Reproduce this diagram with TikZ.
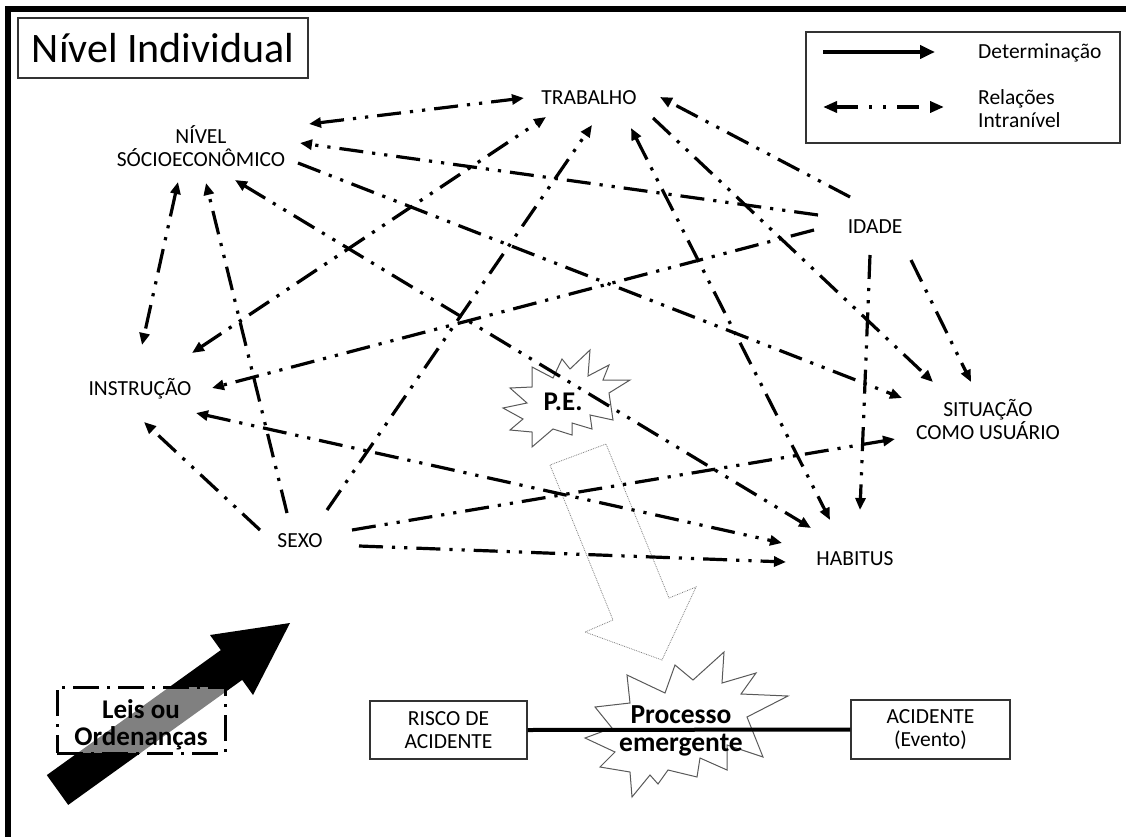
\documentclass[tikz,border=0pt]{standalone}
\usepackage{fontspec}
\setmainfont{Carlito}
\usetikzlibrary{arrows.meta}
\begin{document}
\begin{tikzpicture}[x=1pt,y=-1pt,
  lbl/.style={font=\fontsize{21.5}{23}\selectfont, inner sep=0pt, align=center},
  boldlbl/.style={font=\fontsize{27}{27}\selectfont\bfseries, inner sep=0pt, align=center},
  rel/.style={line width=3.2pt, dash pattern=on 24pt off 9pt on 3.2pt off 9pt on 3.2pt off 9pt},
  one/.style={rel, -{Triangle[length=12pt,width=10pt]}},
  two/.style={rel, {Triangle[length=12pt,width=10pt]}-{Triangle[length=12pt,width=10pt]}},
  thinbox/.style={draw=black!80, line width=1.2pt, inner sep=0pt},
  burst/.style={draw=black!65, line width=1pt},
  hollow/.style={draw=black!50, densely dotted, line width=0.8pt},
]
\useasboundingbox (0,0) rectangle (1126,837);
\fill[white] (0,0) rectangle (1126,837);
% frame (top and left)
\draw[line width=6pt] (5,9.5) -- (1126,9.5);
\draw[line width=5.5pt] (8,6.5) -- (8,837);

% title
\node[thinbox, minimum width=290pt, minimum height=60pt, font=\fontsize{42}{46}\selectfont] (title) at (163,48) {Nível Individual};

% legend
\node[thinbox, minimum width=314pt, minimum height=111pt] (legend) at (963,87.5) {};
\coordinate (detA) at (823,52); \coordinate (detB) at (935,52);
\draw[line width=4pt, -{Triangle[length=15pt,width=13pt]}] (detA) -- (detB);
\node[lbl, anchor=base west] (dettxt) at (978,59) {Determinação};
\coordinate (relA) at (823,107); \coordinate (relB) at (944,107);
\draw[line width=4pt, dash pattern=on 22pt off 11pt on 3pt off 11pt on 3pt off 11pt,
  {Triangle[length=14pt,width=11pt]}-{Triangle[length=14pt,width=11pt]}] (relA) -- (relB);
\node[lbl, align=left, anchor=west] (reltxt) at (978,109) {Relações\\Intranível};

% node labels
\node[lbl, anchor=base] (trab) at (589,105) {TRABALHO};
\node[lbl] (nivel) at (201,146) {NÍVEL\\SÓCIOECONÔMICO};
\node[lbl, anchor=base] (idade) at (875,233) {IDADE};
\node[lbl, anchor=base] (instr) at (140,395) {INSTRUÇÃO};
\node[lbl] (sit) at (988,420) {SITUAÇÃO\\COMO USUÁRIO};
\node[lbl, anchor=base] (sexo) at (300,547) {SEXO};
\node[lbl, anchor=base] (hab) at (855,565) {HABITUS};

% P.E. burst
\draw[burst] (590,350) -- (588,376) -- (609,365) -- (603,380) -- (630,380) -- (609,393) -- (613,420) -- (590,415) -- (592,429) -- (572,423) -- (572,435) -- (553,429) -- (532,447) -- (532,432) -- (510,430) -- (523,419) -- (503,408) -- (527,403) -- (510,388) -- (532,387) -- (532,367) -- (553,378) -- (562,359) -- (570,369) -- cycle;
\node[boldlbl, anchor=base] (pe) at (563,410) {P.E.};

% hollow arrow
\draw[hollow] (550,465) -- (613,620) -- (585,632) -- (662,660) -- (696,587) -- (669,598) -- (606,444) -- cycle;

% relation endpoints
\coordinate (r1a) at (309,124); \coordinate (r1b) at (524,98);
\coordinate (r2a) at (818,215); \coordinate (r2b) at (300,143);
\coordinate (r3a) at (298,163); \coordinate (r3b) at (902,398);
\coordinate (r4a) at (235,180); \coordinate (r4b) at (811,528);
\coordinate (r5a) at (178,182); \coordinate (r5b) at (142,345);
\coordinate (r6a) at (287,513); \coordinate (r6b) at (206,183);
\coordinate (r7a) at (192,353); \coordinate (r7b) at (546,117);
\coordinate (r8a) at (814,230); \coordinate (r8b) at (212,388);
\coordinate (r9a) at (196,413); \coordinate (r9b) at (782,543);
\coordinate (r10a) at (260,530); \coordinate (r10b) at (144,422);
\coordinate (r11a) at (327,510); \coordinate (r11b) at (592,125);
\coordinate (r12a) at (631,128); \coordinate (r12b) at (830,520);
\coordinate (r13a) at (653,118); \coordinate (r13b) at (933,382);
\coordinate (r14a) at (850,197); \coordinate (r14b) at (660,97);
\coordinate (r15a) at (911,260); \coordinate (r15b) at (971,382);
\coordinate (r16a) at (870,255); \coordinate (r16b) at (860,510);
\coordinate (r17a) at (352,530); \coordinate (r17b) at (895,439);
\coordinate (r18a) at (359,546); \coordinate (r18b) at (786,562);

\draw[two] (r1a) -- (r1b);
\draw[one] (r2a) -- (r2b);
\draw[one] (r3a) -- (r3b);
\draw[two] (r4a) -- (r4b);
\draw[two] (r5a) -- (r5b);
\draw[one] (r6a) -- (r6b);
\draw[two] (r7a) -- (r7b);
\draw[one] (r8a) -- (r8b);
\draw[two] (r9a) -- (r9b);
\draw[one] (r10a) -- (r10b);
\draw[one] (r11a) -- (r11b);
\draw[two] (r12a) -- (r12b);
\draw[one] (r13a) -- (r13b);
\draw[one] (r14a) -- (r14b);
\draw[one] (r15a) -- (r15b);
\draw[one] (r16a) -- (r16b);
\draw[one] (r17a) -- (r17b);
\draw[one] (r18a) -- (r18b);

% bottom: emergent process
\draw[burst] (724,652) -- (722,683) -- (756,673) -- (741,694) -- (788,696) -- (747,717) -- (763,757) -- (727,745) -- (727,770) -- (700,758) -- (697,777) -- (668,770) -- (658,784) -- (650,775) -- (632,797) -- (630,772) -- (600,767) -- (615,752) -- (585,738) -- (612,728) -- (595,707) -- (630,703) -- (627,675) -- (665,693) -- (675,665) -- (693,680) -- cycle;
\node[thinbox, lbl, minimum width=157pt, minimum height=58pt] (risco) at (448.5,730) {RISCO DE\\ACIDENTE};
\node[thinbox, lbl, minimum width=159pt, minimum height=59pt] (acid) at (930.5,729.5) {ACIDENTE\\(Evento)};
\draw[line width=4pt] (risco.east) -- (acid.west);
\node[boldlbl, font=\fontsize{27.5}{28}\selectfont\bfseries] (proc) at (681,731) {Processo\\emergente};

% laws arrow and box
\fill[black] (46.8,775.1) -- (220.8,650.1) -- (210,635) -- (290,623) -- (253,695) -- (242.2,679.9) -- (68.2,804.9) -- cycle;
\node[draw, line width=3pt, dash pattern=on 26pt off 8pt on 3pt off 8pt, fill=white, fill opacity=0.5, draw opacity=1, minimum width=168pt, minimum height=66pt, inner sep=0pt] (leisbox) at (141,720) {};
\node[boldlbl] (leis) at (141,725) {Leis ou\\Ordenanças};
\end{tikzpicture}
\end{document}
